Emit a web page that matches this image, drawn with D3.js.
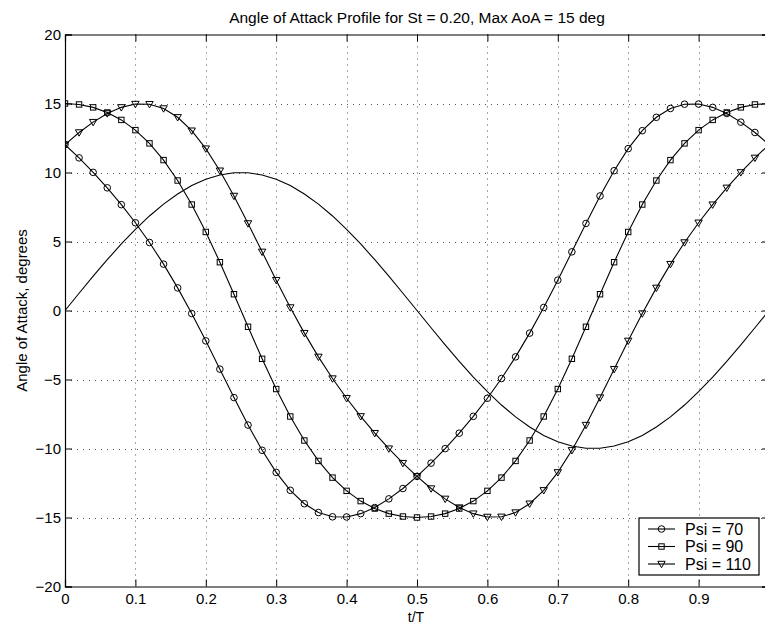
<!DOCTYPE html>
<html>
<head>
<meta charset="utf-8">
<script src="https://cdn.jsdelivr.net/npm/d3@7"></script>
<style>
    html, body { margin: 0; padding: 0; background: #fff; }
    svg { display: block; font-family: "Liberation Sans", Arial, Helvetica, sans-serif; }
</style>
</head>
<body>
<svg id="chart" width="765" height="625"></svg>
<script>
// t/T sample points (every 0.02 of the cycle)
const tValues = [
    0.00, 0.02, 0.04, 0.06, 0.08, 0.10, 0.12, 0.14, 0.16, 0.18,
    0.20, 0.22, 0.24, 0.26, 0.28, 0.30, 0.32, 0.34, 0.36, 0.38,
    0.40, 0.42, 0.44, 0.46, 0.48, 0.50, 0.52, 0.54, 0.56, 0.58,
    0.60, 0.62, 0.64, 0.66, 0.68, 0.70, 0.72, 0.74, 0.76, 0.78,
    0.80, 0.82, 0.84, 0.86, 0.88, 0.90, 0.92, 0.94, 0.96, 0.98, 1.00
];

// plain reference curve (no markers)
const plainValues = [
    0.00, 1.25, 2.49, 3.68, 4.82, 5.88, 6.85, 7.71, 8.44, 9.05,
    9.51, 9.82, 9.98, 9.98, 9.82, 9.51, 9.05, 8.44, 7.71, 6.85,
    5.88, 4.82, 3.68, 2.49, 1.25, 0.00, -1.25, -2.49, -3.68, -4.82,
    -5.88, -6.85, -7.71, -8.44, -9.05, -9.51, -9.82, -9.98, -9.98, -9.82,
    -9.51, -9.05, -8.44, -7.71, -6.85, -5.88, -4.82, -3.68, -2.49, -1.25, 0.00
];

const psi70Values = [
    12.02, 11.06, 10.01, 8.89, 7.67, 6.36, 4.93, 3.36, 1.64, -0.22,
    -2.20, -4.25, -6.31, -8.30, -10.13, -11.73, -13.03, -14.00, -14.64, -14.95,
    -14.96, -14.72, -14.28, -13.65, -12.90, -12.02, -11.06, -10.01, -8.89, -7.67,
    -6.36, -4.93, -3.36, -1.64, 0.22, 2.20, 4.25, 6.31, 8.30, 10.13,
    11.73, 13.03, 14.00, 14.64, 14.95, 14.96, 14.72, 14.28, 13.65, 12.90, 12.02
];

const psi90Values = [
    15.00, 14.93, 14.72, 14.35, 13.81, 13.07, 12.11, 10.90, 9.42, 7.68,
    5.69, 3.50, 1.18, -1.18, -3.50, -5.69, -7.68, -9.42, -10.90, -12.11,
    -13.07, -13.81, -14.35, -14.72, -14.93, -15.00, -14.93, -14.72, -14.35, -13.81,
    -13.07, -12.11, -10.90, -9.42, -7.68, -5.69, -3.50, -1.18, 1.18, 3.50,
    5.69, 7.68, 9.42, 10.90, 12.11, 13.07, 13.81, 14.35, 14.72, 14.93, 15.00
];

const psi110Values = [
    12.02, 12.90, 13.65, 14.28, 14.72, 14.96, 14.95, 14.64, 14.00, 13.03,
    11.73, 10.13, 8.30, 6.31, 4.25, 2.20, 0.22, -1.64, -3.36, -4.93,
    -6.36, -7.67, -8.89, -10.01, -11.06, -12.02, -12.90, -13.65, -14.28, -14.72,
    -14.96, -14.95, -14.64, -14.00, -13.03, -11.73, -10.13, -8.30, -6.31, -4.25,
    -2.20, -0.22, 1.64, 3.36, 4.93, 6.36, 7.67, 8.89, 10.01, 11.06, 12.02
];

const xTicks = [0, 0.1, 0.2, 0.3, 0.4, 0.5, 0.6, 0.7, 0.8, 0.9];
const yTicks = [-20, -15, -10, -5, 0, 5, 10, 15, 20];

const markedSeries = [
    { label: "Psi = 70", marker: "circle", values: psi70Values },
    { label: "Psi = 90", marker: "square", values: psi90Values },
    { label: "Psi = 110", marker: "triangle", values: psi110Values }
];

const titleText = "Angle of Attack Profile for St = 0.20, Max AoA = 15 deg";
const xLabelText = "t/T";
const yLabelText = "Angle of Attack, degrees";

const svg = d3.select("#chart");
const margin = { top: 34.5, left: 65, bottom: 586.5 };

const x = d3.scaleLinear().domain([0, 1]).range([margin.left, margin.left + 704]);
const y = d3.scaleLinear().domain([-20, 20]).range([margin.bottom, margin.top]);

const fmtMinus = v => String(v).replace("-", "\u2212");

// grid (dotted)
const grid = svg.append("g").attr("class", "grid")
    .attr("stroke", "#555")
    .attr("stroke-width", 1)
    .attr("stroke-dasharray", "1,5");

grid.selectAll(".gx")
    .data(xTicks.filter(d => d > 0))
    .join("line")
    .attr("x1", d => Math.round(x(d)) + 0.5)
    .attr("x2", d => Math.round(x(d)) + 0.5)
    .attr("y1", y(20))
    .attr("y2", y(-20));

grid.selectAll(".gy")
    .data(yTicks.filter(d => d > -20 && d < 20))
    .join("line")
    .attr("x1", x(0))
    .attr("x2", x(1))
    .attr("y1", d => Math.round(y(d)) + 0.5)
    .attr("y2", d => Math.round(y(d)) + 0.5);

// axes with inward ticks
const tickLen = 7;
const axes = svg.append("g").attr("class", "axes");

axes.append("g")
    .attr("transform", `translate(0,${y(-20)})`)
    .call(d3.axisBottom(x).tickValues(xTicks).tickSize(-tickLen).tickPadding(7)
        .tickFormat(d => d === 0 ? "0" : d3.format(".1f")(d)));

axes.append("g")
    .attr("transform", `translate(0,${y(20)})`)
    .call(d3.axisTop(x).tickValues(xTicks).tickSize(-tickLen).tickFormat(""));

axes.append("g")
    .attr("transform", `translate(${x(0)},0)`)
    .call(d3.axisLeft(y).tickValues(yTicks).tickSize(-tickLen).tickPadding(4)
        .tickFormat(fmtMinus));

axes.append("g")
    .attr("transform", `translate(${x(1)},0)`)
    .call(d3.axisRight(y).tickValues(yTicks).tickSize(-tickLen).tickFormat(""));

axes.selectAll(".domain").attr("stroke", "#000").attr("stroke-width", 1.2);
axes.selectAll(".tick line").attr("stroke", "#000");
axes.selectAll(".tick text")
    .attr("fill", "#000")
    .style("font-size", "15px");

// clip curves to plot area
svg.append("clipPath").attr("id", "plot-clip")
    .append("rect")
    .attr("x", x(0)).attr("y", y(20))
    .attr("width", x(1) - x(0)).attr("height", y(-20) - y(20));

const plot = svg.append("g").attr("clip-path", "url(#plot-clip)");

const line = d3.line()
    .x((d, i) => x(tValues[i]))
    .y(d => y(d));

plot.append("path")
    .attr("d", line(plainValues))
    .attr("fill", "none")
    .attr("stroke", "#000")
    .attr("stroke-width", 1.1);

function drawMarker(sel, kind) {
    if (kind === "circle") {
        sel.append("circle").attr("r", 3.3);
    } else if (kind === "square") {
        sel.append("rect").attr("x", -2.7).attr("y", -2.7).attr("width", 5.4).attr("height", 5.4);
    } else {
        sel.append("path").attr("d", "M-3.7,-2.7L3.7,-2.7L0,3.7Z");
    }
}

markedSeries.forEach(s => {
    const g = plot.append("g").attr("class", "series");
    g.append("path")
        .attr("d", line(s.values))
        .attr("fill", "none")
        .attr("stroke", "#000")
        .attr("stroke-width", 1.1);

    g.selectAll(".mk")
        .data(s.values)
        .join("g")
        .attr("class", "mk")
        .attr("transform", (d, i) => `translate(${x(tValues[i])},${y(d)})`)
        .attr("fill", "none")
        .attr("stroke", "#000")
        .attr("stroke-width", 1)
        .each(function() { drawMarker(d3.select(this), s.marker); });
});

// title and axis labels
svg.append("text")
    .attr("x", 417)
    .attr("y", 23)
    .attr("text-anchor", "middle")
    .style("font-size", "15.5px")
    .text(titleText);

svg.append("text")
    .attr("x", 416)
    .attr("y", 622)
    .attr("text-anchor", "middle")
    .style("font-size", "14px")
    .text(xLabelText);

svg.append("text")
    .attr("transform", `translate(27,${y(0)}) rotate(-90)`)
    .attr("text-anchor", "middle")
    .style("font-size", "15px")
    .text(yLabelText);

// legend
const legend = svg.append("g").attr("transform", "translate(639,518)");
legend.append("rect")
    .attr("width", 120)
    .attr("height", 57)
    .attr("fill", "#fff")
    .attr("stroke", "#000")
    .attr("stroke-width", 1.2);

const items = legend.selectAll(".legend-item")
    .data(markedSeries)
    .join("g")
    .attr("class", "legend-item")
    .attr("transform", (d, i) => `translate(0,${11 + i * 17.5})`);

items.append("line")
    .attr("x1", 9).attr("x2", 36)
    .attr("stroke", "#000").attr("stroke-width", 1.1);

items.append("g")
    .attr("transform", "translate(22.5,0)")
    .attr("fill", "none")
    .attr("stroke", "#000")
    .each(function(d) { drawMarker(d3.select(this), d.marker); });

items.append("text")
    .attr("x", 46)
    .attr("dy", "0.36em")
    .style("font-size", "16px")
    .text(d => d.label);
</script>
</body>
</html>
